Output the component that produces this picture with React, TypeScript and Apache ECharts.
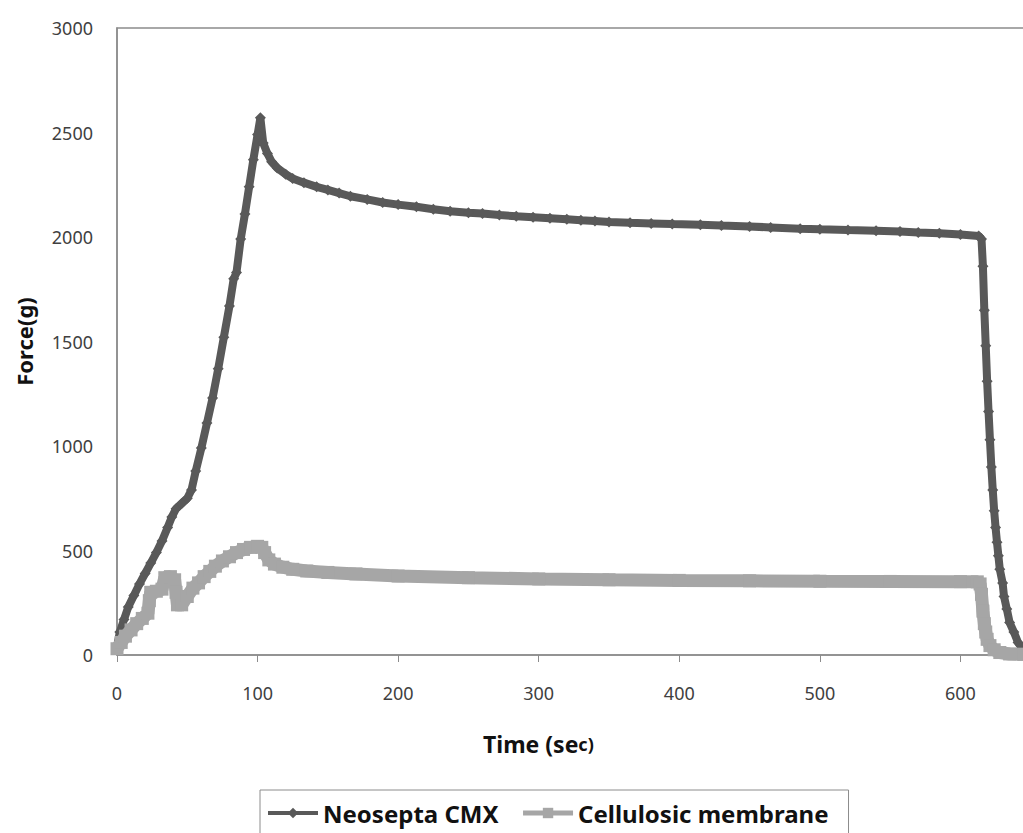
import React, { useEffect, useRef } from "react";
import * as echarts from "echarts";

// Neosepta CMX: time (sec) and force (g)
const neoTime = [
  0, 2, 5, 8, 12, 16, 20, 24, 28, 32, 36, 39, 42, 46, 50, 53, 56, 60, 64, 68,
  72, 76, 80, 83, 85, 88, 91, 94, 97, 100, 102, 104, 107, 110, 114, 120, 125,
  133, 142, 150, 158, 166, 178, 189, 200, 213, 225, 237, 250, 260, 272, 284,
  296, 308, 320, 330, 340, 350, 365, 380, 395, 415, 430, 450, 465, 486, 500,
  520, 540, 557, 570, 585, 600, 613, 615, 616, 617, 618, 619, 620, 621, 622,
  623, 624, 625, 626, 627, 628, 630, 631, 633, 635, 638, 641, 645,
];
const neoForce = [
  40, 110, 170, 230, 285, 340, 390, 440, 490, 545, 610, 660, 700, 725, 750,
  790, 880, 990, 1110, 1230, 1370, 1520, 1670, 1800, 1830, 1990, 2110, 2240,
  2370, 2490, 2570, 2450, 2400, 2360, 2330, 2300, 2280, 2260, 2240, 2225, 2210,
  2195, 2180, 2165, 2155, 2145, 2133, 2123, 2116, 2112, 2105, 2099, 2095, 2090,
  2085, 2080, 2076, 2072, 2068, 2065, 2062, 2059, 2055, 2050, 2046, 2040, 2037,
  2033, 2030, 2026, 2022, 2018, 2012, 2005, 1990, 1860, 1650, 1480, 1310, 1165,
  1030, 900, 790, 690, 610, 540, 475, 410, 345, 280, 220, 155, 110, 60, 20,
];

// Cellulosic membrane: time (sec) and force (g)
const celTime = [
  0, 3, 6, 10, 14, 18, 22, 23, 24, 28, 32, 34, 38, 41, 42, 43, 46, 50, 54, 58,
  62, 66, 70, 75, 80, 85, 90, 95, 100, 103, 105, 108, 112, 118, 125, 135, 150,
  170, 200, 250, 300, 350, 400, 450, 500, 550, 600, 612, 614, 615, 616, 617,
  618, 619, 621, 624, 628, 635, 645,
];
const celForce = [
  30, 60, 90, 120, 150, 175, 200, 260, 300, 305, 315, 370, 375, 360, 300, 240,
  240, 280, 320, 345, 375, 400, 425, 450, 470, 490, 505, 515, 520, 515, 490,
  455, 435, 420, 410, 402, 395, 388, 378, 370, 364, 360, 357, 355, 353, 352,
  351, 350, 340, 290, 210, 150, 110, 75, 45, 25, 12, 5, 3,
];

const seriesNames = ["Neosepta CMX", "Cellulosic membrane"];
const yTitle = "Force(g)";

const FONT = "'Noto Sans', 'Open Sans', sans-serif";

export default function App() {
  const ref = useRef<HTMLDivElement>(null);
  useEffect(() => {
    if (!ref.current) return;
    const chart = echarts.init(ref.current, undefined, { renderer: "svg" });
    const neoData = neoTime.map((t, i) => [t, neoForce[i]]);
    const celData = celTime.map((t, i) => [t, celForce[i]]);
    chart.setOption({
      animation: false,
      backgroundColor: "#ffffff",
      grid: {
        left: 117,
        top: 28,
        width: 984,
        height: 627,
        show: true,
        borderColor: "#8c8c8c",
        borderWidth: 1.5,
        backgroundColor: "transparent",
        outerBoundsMode: "none",
        containLabel: false,
      },
      xAxis: {
        type: "value",
        min: 0,
        max: 700,
        interval: 100,
        axisLine: { show: true, onZero: false, lineStyle: { color: "#8c8c8c", width: 1.5 } },
        axisTick: { show: true, length: 7, lineStyle: { color: "#8c8c8c", width: 1 } },
        splitLine: { show: false },
        axisLabel: {
          color: "#404040",
          fontSize: 18,
          margin: 29,
          fontFamily: FONT,
          showMaxLabel: false,
          formatter: (v: number) => String(v),
        },
      },
      yAxis: {
        type: "value",
        min: 0,
        max: 3000,
        interval: 500,
        axisLine: { show: true, lineStyle: { color: "#8c8c8c", width: 1.5 } },
        axisTick: { show: false },
        splitLine: { show: false },
        axisLabel: {
          color: "#404040",
          fontSize: 18,
          margin: 24,
          fontFamily: FONT,
          formatter: (v: number) => String(v),
        },
        name: yTitle,
        nameLocation: "middle",
        nameGap: 82,
        nameTextStyle: { color: "#111", fontSize: 22, fontWeight: "bold", fontFamily: FONT },
      },
      graphic: [
        {
          type: "text",
          left: 483,
          top: 732,
          style: {
            text: "{a|Time (se}{b|c)}",
            rich: {
              a: { fontSize: 23, fontWeight: "bold", fontFamily: FONT, fill: "#111" },
              b: { fontSize: 18, fontWeight: "bold", fontFamily: FONT, fill: "#111" },
            },
          },
        },
      ],
      legend: {
        show: true,
        left: 260,
        top: 790,
        orient: "horizontal",
        borderColor: "#8c8c8c",
        borderWidth: 1,
        backgroundColor: "#ffffff",
        padding: [11, 20, 30, 6],
        itemWidth: 50,
        itemHeight: 13,
        itemGap: 22,
        textStyle: { color: "#111", fontSize: 24, fontWeight: "bold", fontFamily: FONT },
        data: [
          { name: seriesNames[0], lineStyle: { width: 4 } },
          { name: seriesNames[1], lineStyle: { width: 5 } },
        ],
      },
      series: [
        {
          type: "line",
          name: seriesNames[0],
          data: neoData,
          symbol: "diamond",
          symbolSize: 11,
          showSymbol: true,
          lineStyle: { color: "#595959", width: 8 },
          itemStyle: { color: "#595959" },
          z: 2,
        },
        {
          type: "line",
          name: seriesNames[1],
          data: celData,
          symbol: "rect",
          symbolSize: 13,
          showSymbol: true,
          lineStyle: { color: "#a6a6a6", width: 13 },
          itemStyle: { color: "#a6a6a6" },
          z: 3,
        },
      ],
    });
    return () => chart.dispose();
  }, []);
  return (
    <div
      style={{ position: "absolute", left: 0, top: 0, width: 1023, height: 833, overflow: "hidden", background: "#fff" }}
    >
      <div ref={ref} style={{ width: 1200, height: 833 }} />
    </div>
  );
}
